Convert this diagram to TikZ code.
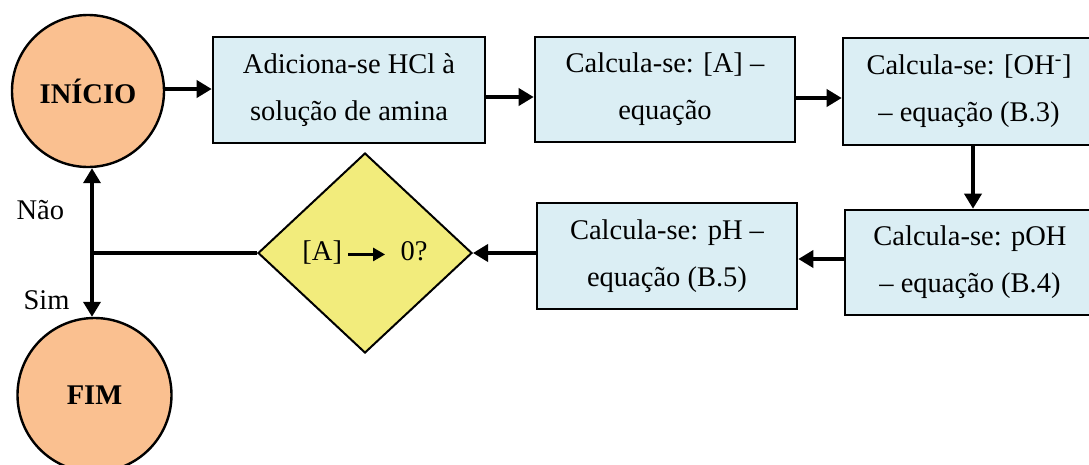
\documentclass[tikz,border=0pt]{standalone}
\usepackage{fontspec}
\setmainfont{Liberation Serif}
\usetikzlibrary{shapes.geometric,arrows.meta}
\definecolor{circfill}{RGB}{250,192,144}
\definecolor{boxfill}{RGB}{219,238,244}
\definecolor{diafill}{RGB}{242,236,124}
\tikzset{
  txt/.style={font=\fontsize{28.5}{47}\selectfont},
  term/.style={circle,draw,line width=2.4pt,fill=circfill,inner sep=0pt,txt,font=\fontsize{28.5}{47}\selectfont\bfseries},
  proc/.style={rectangle,draw,line width=2.6pt,fill=boxfill,inner sep=0pt,align=center,txt},
  decision/.style={diamond,draw,line width=2pt,fill=diafill,inner sep=0pt,txt},
  arr/.style={line width=3.6pt,-{Triangle[length=15pt,width=17pt]}},
  ln/.style={line width=3.6pt}
}
\begin{document}
\begin{tikzpicture}[x=1pt,y=-1pt]
\useasboundingbox (0,0) rectangle (1089,464);
\node[term,minimum size=152pt] (inicio) at (88,91) {INÍCIO};
\node[term,minimum size=154pt] (fim) at (94.5,395) {FIM};
\node[proc,minimum width=272pt,minimum height=106pt] (b1) at (349,90) {Adiciona-se HCl à\\solução de amina};
\node[proc,minimum width=260pt,minimum height=105pt] (b2) at (665,89.5) {Calcula-se: [A] –\\equação};
\node[proc,minimum width=252pt,minimum height=107pt] (b3) at (969,91.5) {Calcula-se: [OH\textsuperscript{-}]\\– equação (B.3)};
\node[proc,minimum width=250pt,minimum height=105pt] (b4) at (970,262.5) {Calcula-se: pOH\\– equação (B.4)};
\node[proc,minimum width=260pt,minimum height=106pt] (b5) at (667,256) {Calcula-se: pH –\\equação (B.5)};
\node[decision,minimum width=214pt,minimum height=200pt] (d) at (365,253) {[A]\,\tikz[baseline=-0.5ex]\draw[line width=2.6pt,-{Triangle[length=12pt,width=13pt]}] (0pt,0pt)--(37pt,0pt);\ \ 0?};
\coordinate (j) at (92,253);
\node[txt,anchor=base west] (nao) at (13,219) {Não};
\node[txt,anchor=base west] (sim) at (20,309) {Sim};
\draw[arr] (inicio.east |- 0,89) -- (b1.west |- 0,89);
\draw[arr] (b1.east |- 0,97) -- (b2.west |- 0,97);
\draw[arr] (b2.east |- 0,98) -- (b3.west |- 0,98);
\draw[arr] (b3.south -| 973,0) -- (b4.north -| 973,0);
\draw[arr] (b4.west |- 0,259) -- (b5.east |- 0,259);
\draw[arr] (b5.west |- 0,253) -- (d.east);
\draw[ln] (d.west) -- (j);
\draw[arr] (j) -- (j |- inicio.south);
\draw[arr] (j) -- (j |- fim.north);
\end{tikzpicture}
\end{document}
